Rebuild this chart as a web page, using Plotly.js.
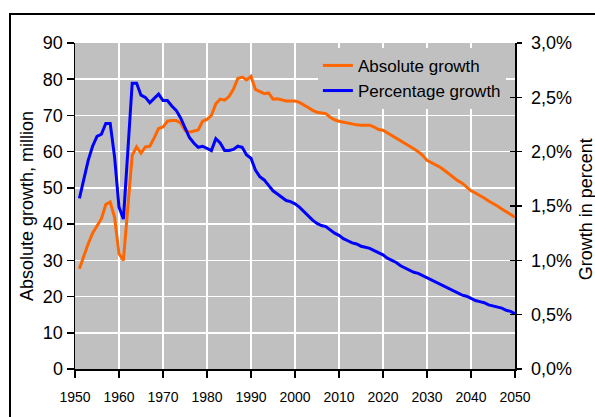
<!DOCTYPE html>
<html>
<head>
<meta charset="utf-8">
<script src="https://cdn.plot.ly/plotly-3.0.1.min.js"></script>
<style>
html,body{margin:0;padding:0;background:#fff;}
#chart{width:595px;height:417px;}
</style>
</head>
<body>
<div id="chart"></div>
<script>
const years = [];
for (let y = 1951; y <= 2050; y++) years.push(y);

const absoluteGrowth = [
  27.7, 31.2, 34.6, 37.5, 39.6, 41.5, 45.4, 46.1, 41.9, 31.8,
  30.0, 45.0, 59.0, 61.3, 59.6, 61.3, 61.5, 63.8, 66.4, 66.8,
  68.4, 68.6, 68.6, 67.9, 65.9, 65.4, 65.8, 66.0, 68.4, 68.9,
  70.0, 73.2, 74.5, 74.2, 75.2, 77.2, 80.2, 80.6, 79.8, 80.8,
  77.2, 76.6, 76.0, 76.2, 74.5, 74.6, 74.3, 74.0, 74.0, 74.0,
  73.6, 73.0, 72.2, 71.4, 70.9, 70.7, 70.5, 69.5, 68.8, 68.4,
  68.1, 67.9, 67.6, 67.4, 67.3, 67.3, 67.3, 66.8, 66.1, 65.9,
  65.2, 64.4, 63.6, 63.0, 62.3, 61.7, 60.8, 60.0, 59.0, 57.6,
  57.0, 56.3, 55.7, 54.8, 53.8, 53.0, 52.0, 51.3, 50.2, 49.2,
  48.6, 48.0, 47.2, 46.4, 45.8, 45.0, 44.2, 43.5, 42.6, 41.9
];

const percentageGrowth = [
  1.57, 1.76, 1.92, 2.05, 2.14, 2.16, 2.26, 2.26, 1.95, 1.49,
  1.38, 2.00, 2.63, 2.63, 2.52, 2.50, 2.45, 2.49, 2.53, 2.47,
  2.47, 2.42, 2.38, 2.31, 2.22, 2.13, 2.08, 2.04, 2.05, 2.03,
  2.01, 2.12, 2.08, 2.01, 2.01, 2.02, 2.05, 2.04, 1.97, 1.94,
  1.83, 1.77, 1.74, 1.69, 1.64, 1.61, 1.58, 1.55, 1.54, 1.52,
  1.49, 1.45, 1.41, 1.37, 1.34, 1.32, 1.31, 1.28, 1.25, 1.23,
  1.20, 1.18, 1.16, 1.15, 1.13, 1.12, 1.11, 1.09, 1.07, 1.05,
  1.02, 1.00, 0.98, 0.95, 0.93, 0.91, 0.89, 0.88, 0.86, 0.84,
  0.82, 0.80, 0.78, 0.76, 0.74, 0.72, 0.70, 0.68, 0.67, 0.65,
  0.63, 0.62, 0.61, 0.59, 0.58, 0.57, 0.56, 0.54, 0.53, 0.51
];

const seriesNames = ["Absolute growth", "Percentage growth"];
const xTickVals = [1950,1960,1970,1980,1990,2000,2010,2020,2030,2040,2050];
const leftTitle = "Absolute growth, million";
const rightTitle = "Growth in percent";

const pctFraction = percentageGrowth.map(v => v / 100);

const font = "'Liberation Sans', Arial, sans-serif";

const traces = [
  {
    x: years, y: absoluteGrowth, name: seriesNames[0], type: "scatter", mode: "lines",
    line: {color: "#ff6600", width: 3}, yaxis: "y", hoverinfo: "skip"
  },
  {
    x: years, y: pctFraction, name: seriesNames[1], type: "scatter", mode: "lines",
    line: {color: "#0000ff", width: 3}, yaxis: "y2", hoverinfo: "skip"
  },
  {
    x: [years[0]], y: [pctFraction[0]], type: "scatter", mode: "markers",
    marker: {opacity: 0}, yaxis: "y3", showlegend: false, hoverinfo: "skip"
  }
];

const layout = {
  width: 595, height: 417,
  margin: {l: 75, r: 80, t: 43, b: 48, pad: 0},
  paper_bgcolor: "#ffffff",
  plot_bgcolor: "#c0c0c0",
  separators: ", ",
  font: {family: font, color: "#000000", size: 18},
  showlegend: true,
  legend: {
    x: 0.552, y: 0.985, xanchor: "left", yanchor: "top",
    bgcolor: "#c0c0c0", borderwidth: 0,
    font: {family: font, size: 17, color: "#000"},
    tracegroupgap: 0, itemwidth: 30
  },
  xaxis: {
    range: [1950, 2050], tickvals: xTickVals, ticktext: xTickVals.map(String),
    showgrid: true, gridcolor: "#ffffff", gridwidth: 1.5,
    showline: true, linecolor: "#000000", linewidth: 1.5,
    ticks: "outside", ticklen: 7, tickwidth: 1.5, tickcolor: "#000",
    ticklabelstandoff: 8,
    tickfont: {family: font, size: 14}, zeroline: false, fixedrange: true
  },
  yaxis: {
    range: [0, 90], dtick: 10, tick0: 0,
    showgrid: true, gridcolor: "#ffffff", gridwidth: 1.5,
    showline: true, linecolor: "#000000", linewidth: 1.5,
    ticks: "outside", ticklen: 7, tickwidth: 1.5, tickcolor: "#000",
    tickfont: {family: font, size: 18}, zeroline: false,
    title: {text: leftTitle, font: {family: font, size: 18}, standoff: 4}
  },
  yaxis2: {
    range: [0, 0.03], dtick: 0.005, tick0: 0, tickformat: ".1%",
    overlaying: "y", side: "right", anchor: "x",
    showgrid: false, showline: true, linecolor: "#000000", linewidth: 1.5,
    ticks: "outside", ticklen: 5, tickwidth: 1.5, tickcolor: "#000",
    ticklabelstandoff: 6,
    tickfont: {family: font, size: 18}, zeroline: false
  },
  yaxis3: {
    range: [0, 0.03], dtick: 0.005, tick0: 0,
    overlaying: "y", side: "right", anchor: "x",
    showgrid: false, showline: false, showticklabels: false,
    ticks: "inside", ticklen: 5, tickwidth: 1.5, tickcolor: "#000", zeroline: false
  },
  annotations: [
    {
      text: rightTitle, xref: "paper", yref: "paper",
      x: (574 - 75) / 440, y: 0.49, xanchor: "left", yanchor: "middle",
      textangle: -90, showarrow: false,
      font: {family: font, size: 18, color: "#000"}
    }
  ],
  shapes: [
    {
      type: "rect", xref: "paper", yref: "paper",
      x0: (10 - 75) / 440, x1: (610 - 75) / 440,
      y0: (369 - 430) / 326, y1: (369 - 14) / 326,
      line: {color: "#000000", width: 2}, fillcolor: "rgba(0,0,0,0)", layer: "below"
    }
  ]
};

Plotly.newPlot("chart", traces, layout, {staticPlot: true, displayModeBar: false});
</script>
</body>
</html>
